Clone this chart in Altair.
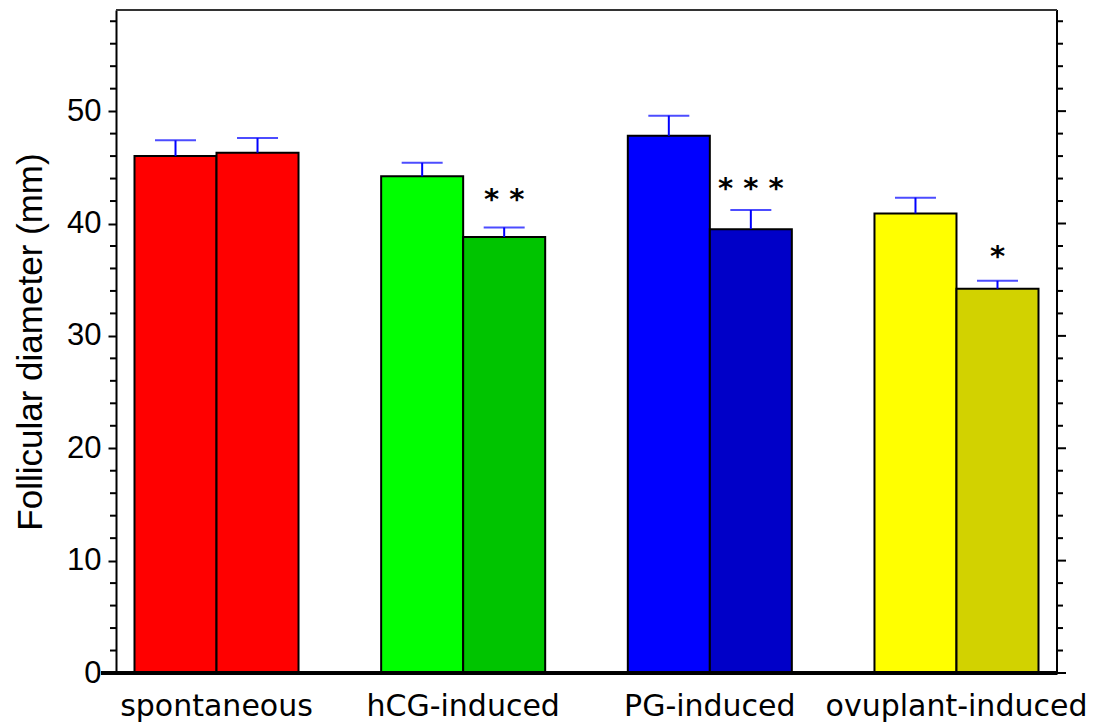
import altair as alt
import pandas as pd

groups = ["spontaneous", "hCG-induced", "PG-induced", "ovuplant-induced"]
series = ["plain", "hatched"]
means_plain = [46.0, 44.2, 47.8, 40.9]
means_hatched = [46.3, 38.8, 39.5, 34.2]
err_plain = [1.4, 1.2, 1.8, 1.4]
err_hatched = [1.3, 0.85, 1.7, 0.7]
stars_hatched = ["", "* *", "* * *", "*"]
star_pos_hatched = [None, 41.3, 42.3, 36.2]
colors_plain = ["#ff0000", "#00ff00", "#0000ff", "#ffff00"]
colors_hatched = ["#ff0000", "#00c400", "#0000c8", "#d2d200"]

major_ticks = [0, 10, 20, 30, 40, 50]
minor_ticks = [v for v in range(0, 60, 2) if v % 10 != 0]

rows = []
for i, g in enumerate(groups):
    rows.append(dict(group=g, series="plain", key=g + "|plain", mean=means_plain[i],
                     top=means_plain[i] + err_plain[i], star="", star_y=None))
    rows.append(dict(group=g, series="hatched", key=g + "|hatched", mean=means_hatched[i],
                     top=means_hatched[i] + err_hatched[i], star=stars_hatched[i],
                     star_y=star_pos_hatched[i]))
df = pd.DataFrame(rows)
keys = [g + "|plain" for g in groups] + [g + "|hatched" for g in groups]
key_colors = colors_plain + colors_hatched

W = 941
H = 663
yscale = alt.Scale(domain=[0, 59], nice=False, zero=True)
xenc = alt.X("group:N", sort=groups,
             scale=alt.Scale(paddingInner=0.335, paddingOuter=0.075),
             axis=alt.Axis(title=None, ticks=False, domain=True, domainColor="black",
                           domainWidth=3, labelFont="DejaVu Sans", labelFontSize=30,
                           labelColor="black", labelPadding=18, labelAngle=0,
                           labelLimit=0, labelOverlap=False))
xoff = alt.XOffset("series:N", sort=series, scale=alt.Scale(paddingInner=0, paddingOuter=0))

base = alt.Chart(df)

bars = base.mark_bar(stroke="black", strokeWidth=2).encode(
    x=xenc, xOffset=xoff,
    y=alt.Y("mean:Q", scale=yscale,
            axis=alt.Axis(title="Follicular diameter (mm)", values=major_ticks,
                          tickSize=8, tickWidth=2, tickColor="black",
                          domainColor="black", domainWidth=2,
                          labelFont="Liberation Sans", labelFontSize=31, labelColor="black",
                          labelPadding=7, titleFont="Liberation Sans", titleFontSize=35,
                          titleFontWeight="normal", titleColor="black", titlePadding=18,
                          grid=False)),
    color=alt.Color("key:N", scale=alt.Scale(domain=keys, range=key_colors), legend=None),
)

err_rule = base.mark_rule(color="#0000ff", strokeWidth=2).encode(
    x=xenc, xOffset=xoff, y=alt.Y("mean:Q", scale=yscale), y2="top:Q")
err_cap = base.mark_tick(color="#0000ff", thickness=2, size=41, orient="horizontal").encode(
    x=xenc, xOffset=xoff, y=alt.Y("top:Q", scale=yscale))
stars = base.mark_text(font="DejaVu Sans", fontSize=29, fontWeight="bold", color="black",
                       baseline="alphabetic").encode(
    x=xenc, xOffset=xoff, y=alt.Y("star_y:Q", scale=yscale), text="star:N")

minor_df = pd.DataFrame({"v": minor_ticks})
major_df = pd.DataFrame({"v": major_ticks})
left_minor = alt.Chart(minor_df).mark_rule(color="black", strokeWidth=2).encode(
    y=alt.Y("v:Q", scale=yscale), x=alt.value(-6), x2=alt.value(0))
right_minor = alt.Chart(minor_df).mark_rule(color="black", strokeWidth=2).encode(
    y=alt.Y("v:Q", scale=yscale), x=alt.value(W), x2=alt.value(W + 6))
right_major = alt.Chart(major_df).mark_rule(color="black", strokeWidth=2).encode(
    y=alt.Y("v:Q", scale=yscale), x=alt.value(W), x2=alt.value(W + 9))
right_line = alt.Chart(major_df).mark_rule(color="black", strokeWidth=2).encode(
    x=alt.value(W), y=alt.value(0), y2=alt.value(H))
top_line = alt.Chart(major_df).mark_rule(color="#333333", strokeWidth=2).encode(
    x=alt.value(0), x2=alt.value(W), y=alt.value(0))
base_line = alt.Chart(major_df).mark_rule(color="black", strokeWidth=3).encode(
    x=alt.value(-15), x2=alt.value(W), y=alt.value(H))

chart = alt.layer(
    bars, err_rule, err_cap, stars, left_minor, right_minor, right_major, right_line,
    top_line, base_line
).properties(
    width=W, height=H, padding={"left": 13, "top": 9, "right": 10, "bottom": 5}
).configure_view(stroke=None).configure(background="white")

chart.save("out.html", embed_options={"renderer": "svg", "actions": False})
